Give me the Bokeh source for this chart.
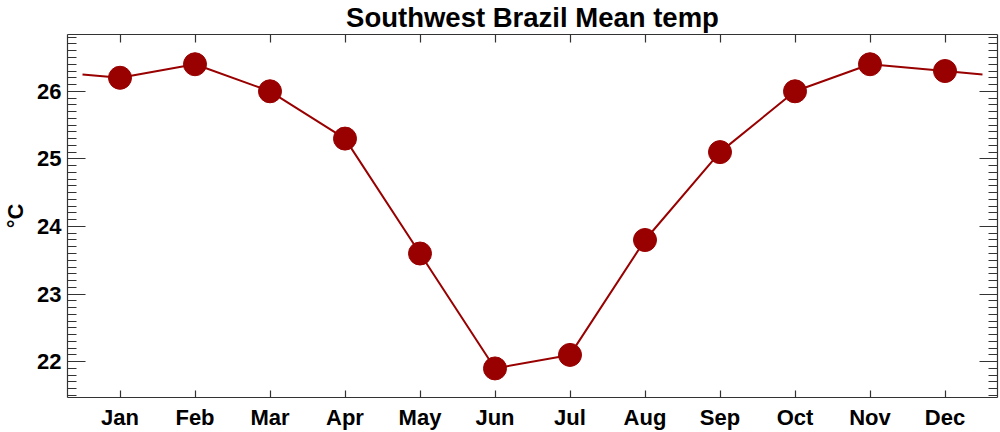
from bokeh.plotting import figure
from bokeh.models import Range1d, LinearAxis, FixedTicker, SingleIntervalTicker, ColumnDataSource
from bokeh.embed import file_html
from bokeh.resources import INLINE

months = ["Jan", "Feb", "Mar", "Apr", "May", "Jun", "Jul", "Aug", "Sep", "Oct", "Nov", "Dec"]
temps = [26.2, 26.4, 26.0, 25.3, 23.6, 21.9, 22.1, 23.8, 25.1, 26.0, 26.4, 26.3]
title_text = "Southwest Brazil Mean temp"
y_label = "°C"

month_pos = list(range(1, len(months) + 1))
# wrap-around: line extends half a month each side to the Dec/Jan mean
wrap = (temps[0] + temps[-1]) / 2.0
line_x = [0.5] + month_pos + [len(months) + 0.5]
line_y = [wrap] + temps + [wrap]

FONT = "Liberation Sans"
RED = "#990000"
AX = "#333333"
X0, X1 = 0.3, 12.7
Y0, Y1 = 21.47, 26.84

p = figure(width=1000, height=432, output_backend="svg", toolbar_location=None,
           x_range=Range1d(X0, X1), y_range=Range1d(Y0, Y1),
           min_border_left=60, min_border_right=3, min_border_top=34, min_border_bottom=0,
           x_axis_location=None, y_axis_location=None)
p.grid.visible = False
p.outline_line_color = None
p.background_fill_color = "white"
p.border_fill_color = "white"

p.title.text = title_text
p.title.align = "center"
p.title.vertical_align = "top"
p.title.text_font = FONT
p.title.text_font_size = "27.5px"
p.title.text_font_style = "bold"
p.title.text_color = "black"
p.title.standoff = 0
p.title.offset = 0

xt = FixedTicker(ticks=month_pos)
yt = SingleIntervalTicker(interval=1, num_minor_ticks=10)

def style_axis(ax, labels=True, major_in=7, minor_in=0):
    ax.axis_line_color = AX
    ax.axis_line_width = 1.2
    ax.major_tick_line_color = AX
    ax.minor_tick_line_color = AX
    ax.major_tick_line_width = 1.2
    ax.minor_tick_line_width = 1.2
    ax.major_tick_in = major_in
    ax.major_tick_out = 0
    ax.minor_tick_in = minor_in
    ax.minor_tick_out = 0
    ax.major_label_text_font = FONT
    ax.major_label_text_font_style = "bold"
    ax.major_label_text_font_size = "22px" if labels else "1px"
    ax.major_label_text_color = "black"
    if not labels:
        ax.axis_label = None
        ax.major_label_standoff = 0
        ax.axis_label_standoff = 0
        ax.axis_label_text_font_size = "1px"

bottom = LinearAxis(ticker=xt, major_label_overrides={i + 1: m for i, m in enumerate(months)})
style_axis(bottom, True, 7, 0)
bottom.axis_label = None
bottom.major_label_standoff = 7
p.add_layout(bottom, "below")

top = LinearAxis(ticker=xt)
style_axis(top, False, 8, 0)
top.major_label_overrides = {i + 1: "" for i in range(len(months))}
p.add_layout(top, "above")

left = LinearAxis(ticker=yt, axis_label=y_label)
style_axis(left, True, 18, 9)
left.major_label_standoff = 6
left.axis_label_text_font = FONT
left.axis_label_text_font_style = "bold"
left.axis_label_text_font_size = "22px"
left.axis_label_text_color = "black"
left.axis_label_standoff = 6
p.add_layout(left, "left")

right = LinearAxis(ticker=yt)
style_axis(right, False, 18, 9)
right.major_label_overrides = {v: "" for v in range(20, 29)}
p.add_layout(right, "right")

src = ColumnDataSource(dict(x=month_pos, y=temps))
p.line(line_x, line_y, line_color=RED, line_width=2)
p.scatter("x", "y", source=src, size=23, fill_color=RED, line_color=RED)

open("out.html", "w").write(file_html(p, INLINE))
